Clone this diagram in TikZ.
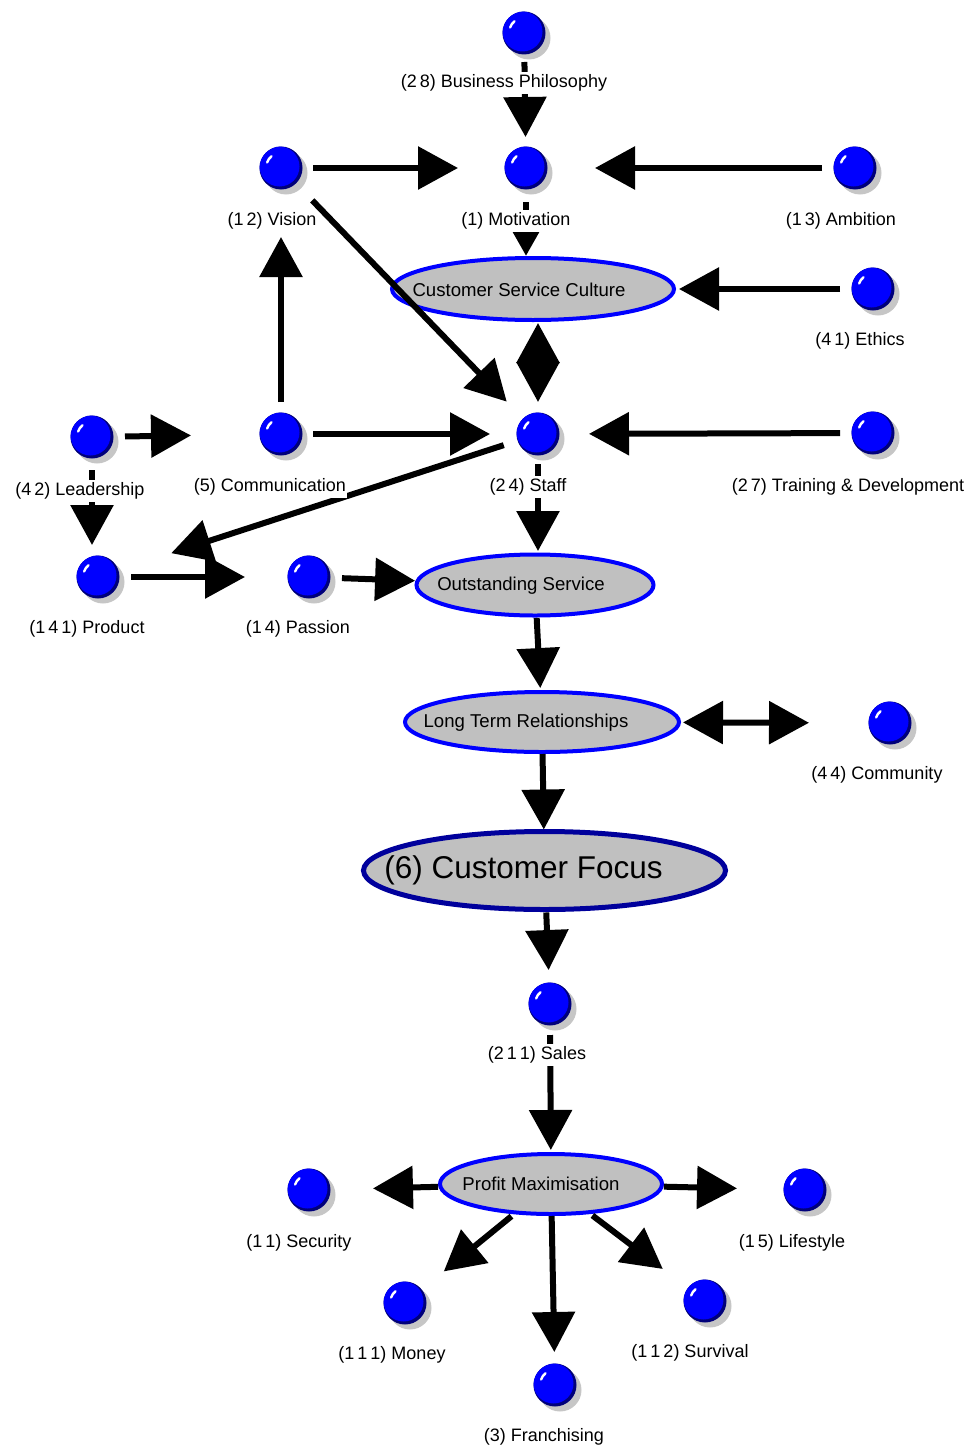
\documentclass[tikz,border=0pt]{standalone}
\usepackage{fontspec}
\setmainfont{Liberation Sans}
\usetikzlibrary{arrows.meta,shapes.geometric,shadows}

\definecolor{ballblue}{HTML}{0000FF}
\definecolor{ballrim}{HTML}{00007A}
\definecolor{ballshadow}{HTML}{C6C6C6}
\definecolor{ovalfill}{HTML}{C0C0C0}
\definecolor{ovalline}{HTML}{0000FF}
\definecolor{focusline}{HTML}{00009C}

\pgfdeclarelayer{ovals}
\pgfdeclarelayer{links}
\pgfsetlayers{ovals,links,main}

\tikzset{
  ball/.style={circle, minimum size=43pt, inner sep=0pt, fill=ballrim,
    drop shadow={shadow xshift=5pt, shadow yshift=-5pt, fill=ballshadow, opacity=1},
    path picture={
      \fill[ballblue] ([xshift=-1.5pt,yshift=1.5pt]path picture bounding box.center) circle[radius=20pt];
      \draw[white, line width=2.4pt, line cap=round]
        ([xshift=-1.5pt,yshift=1.5pt]path picture bounding box.center) ++(162:13pt)
        arc[start angle=162, end angle=128, radius=13pt];
    }},
  tag/.style={fill=white, inner xsep=1pt, inner ysep=2.5pt, anchor=base,
    font=\fontsize{18}{20}\selectfont},
  ovaltext/.style={font=\fontsize{18.6}{20}\selectfont, inner sep=0pt},
  oval/.style={ellipse, fill=ovalfill, draw=ovalline, line width=4pt, inner sep=0pt},
  link/.style={line width=6pt, -{Triangle[length=40pt,width=42pt]}},
  twolink/.style={line width=6pt, {Triangle[length=40pt,width=42pt]}-{Triangle[length=40pt,width=42pt]}},
  smalllink/.style={line width=6pt, -{Triangle[length=25pt,width=26pt]}},
}

\begin{document}
\begin{tikzpicture}[x=1pt, y=-1pt]
\useasboundingbox (0,0) rectangle (972,1445);

% ---- ovals ----
\begin{pgfonlayer}{ovals}
\node[oval, minimum width=282pt, minimum height=62pt,
  label={[ovaltext, xshift=-14pt, yshift=-1pt]center:Customer Service Culture}] (csc) at (533,289) {};
\node[oval, minimum width=237pt, minimum height=61pt,
  label={[ovaltext, xshift=-14pt, yshift=-1pt]center:Outstanding Service}] (os) at (535,585) {};
\node[oval, minimum width=274pt, minimum height=60pt,
  label={[ovaltext, xshift=-16pt, yshift=-1pt]center:Long Term Relationships}] (ltr) at (542,722) {};
\node[oval, draw=focusline, line width=5pt, minimum width=362pt, minimum height=78pt,
  label={[ovaltext, font=\fontsize{31.5}{34}\selectfont, xshift=-21pt]center:(6) Customer Focus}] (cf) at (544.5,870.5) {};
\node[oval, minimum width=222pt, minimum height=60pt,
  label={[ovaltext, xshift=-10pt]center:Profit Maximisation}] (pm) at (551,1184) {};
\end{pgfonlayer}

% ---- balls ----
\node[ball] (phil)    at (524,33)   {};
\node[ball] (vision)  at (281,168)  {};
\node[ball] (motiv)   at (526,168)  {};
\node[ball] (ambit)   at (855,168)  {};
\node[ball] (ethics)  at (873,289)  {};
\node[ball] (leader)  at (92,437)   {};
\node[ball] (comm)    at (281,434)  {};
\node[ball] (staff)   at (538,434)  {};
\node[ball] (train)   at (873,433)  {};
\node[ball] (product) at (98,577)   {};
\node[ball] (passion) at (309,577)  {};
\node[ball] (commun)  at (890,723)  {};
\node[ball] (sales)   at (550,1004) {};
\node[ball] (secur)   at (309,1190) {};
\node[ball] (life)    at (805,1190) {};
\node[ball] (money)   at (405,1303) {};
\node[ball] (surv)    at (705,1301) {};
\node[ball] (franch)  at (555,1385) {};

% ---- captions ----
\node[tag] (phil-t)    at (504,87.5)   {(2\,8) Business Philosophy};
\node[tag] (vision-t)  at (272,225.5)  {(1\,2) Vision};
\node[tag] (motiv-t)   at (516,225.5)  {(1) Motivation};
\node[tag] (ambit-t)   at (841,225.5)  {(1\,3) Ambition};
\node[tag] (ethics-t)  at (860,345.5)  {(4\,1) Ethics};
\node[tag] (leader-t)  at (80,495.5)   {(4\,2) Leadership};
\node[tag] (comm-t)    at (270,491.5)  {(5) Communication};
\node[tag] (staff-t)   at (528,491.5)  {(2\,4) Staff};
\node[tag] (train-t)   at (848,491.5)  {(2\,7) Training \& Development};
\node[tag] (product-t) at (87,633.5)   {(1\,4\,1) Product};
\node[tag] (passion-t) at (298,633.5)  {(1\,4) Passion};
\node[tag] (commun-t)  at (877,779.5)  {(4\,4) Community};
\node[tag] (sales-t)   at (537,1059.5) {(2\,1\,1) Sales};
\node[tag] (secur-t)   at (299,1247.5) {(1\,1) Security};
\node[tag] (life-t)    at (792,1247.5) {(1\,5) Lifestyle};
\node[tag] (money-t)   at (392,1359.5) {(1\,1\,1) Money};
\node[tag] (surv-t)    at (690,1357.5) {(1\,1\,2) Survival};
\node[tag] (franch-t)  at (544,1441.5) {(3) Franchising};

% ---- connectors ----
\begin{pgfonlayer}{links}
\draw[link, shorten <=29pt, shorten >=31pt] (phil.center) -- (motiv.center);
\draw[link, shorten <=32pt, shorten >=68pt] (vision.center) -- (motiv.center);
\draw[link, shorten <=33pt, shorten >=69pt] (ambit.center) -- (motiv.center);
\draw[smalllink, shorten <=34pt] (motiv.center) -- (motiv.center |- csc.north);
\draw[link, shorten <=33pt, shorten >=146pt] (ethics.center) -- (csc.center);
\draw[link, shorten <=45pt, shorten >=45pt] (vision.center) -- (staff.center);
\draw[twolink, shorten <=1pt, shorten >=32pt] (staff.center |- csc.south) -- (staff.center);
\draw[link, shorten <=32pt, shorten >=69pt] (comm.center) -- (vision.center);
\draw[link, shorten <=33pt, shorten >=90pt] (leader.center) -- (comm.center);
\draw[link, shorten <=32pt, shorten >=48pt] (comm.center) -- (staff.center);
\draw[link, shorten <=33pt, shorten >=51pt] (train.center) -- (staff.center);
\draw[link, shorten <=36pt, shorten >=77pt] (staff.center) -- (product.center);
\draw[link, shorten <=33pt, shorten >=32pt] (leader.center) -- (leader.center |- product.center);
\draw[link, shorten <=33pt, shorten >=64pt] (product.center) -- (passion.center);
\draw[link, shorten <=33pt, shorten >=120pt] (passion.center) -- (os.center);
\draw[link, shorten <=30pt, shorten >=34pt] (staff.center) -- (staff.center |- os.center);
\draw[link, shorten <=33pt, shorten >=34pt] (os.center) -- (ltr.center);
\draw[twolink, shorten <=141pt, shorten >=81pt] (ltr.center) -- (commun.center);
\draw[link, shorten <=32pt, shorten >=41pt] (ltr.center) -- (cf.center);
\draw[link, shorten <=42pt, shorten >=34pt] (cf.center) -- (sales.center);
\draw[link, shorten <=31pt, shorten >=34pt] (sales.center) -- (pm.center);
\draw[link, shorten <=113pt, shorten >=64pt] (pm.center) -- (secur.center);
\draw[link, shorten <=113pt, shorten >=68pt] (pm.center) -- (life.center);
\draw[link, shorten <=51pt, shorten >=50pt] (pm.center) -- (money.center);
\draw[link, shorten <=32pt, shorten >=33pt] (pm.center) -- (franch.center);
\draw[link, shorten <=52pt, shorten >=53pt] (pm.center) -- (surv.center);
\end{pgfonlayer}
\end{tikzpicture}
\end{document}
